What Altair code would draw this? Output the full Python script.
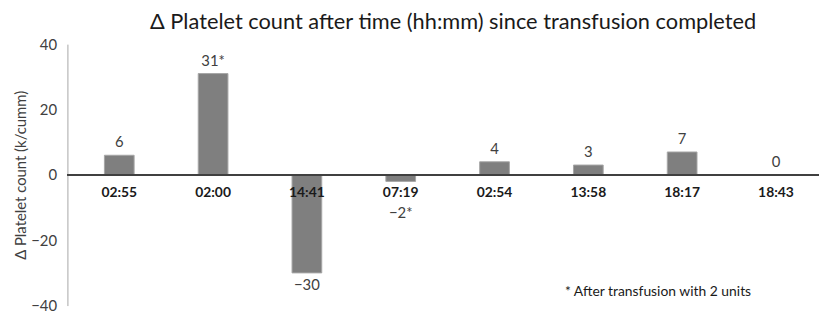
import altair as alt
import pandas as pd

times = ["02:55", "02:00", "14:41", "07:19", "02:54", "13:58", "18:17", "18:43"]
values = [6, 31, -30, -2, 4, 3, 7, 0]
value_labels = ["6", "31*", "\u221230", "\u22122*", "4", "3", "7", "0"]
y_ticks = [-40, -20, 0, 20, 40]
note_text = ["* After transfusion with 2 units"]

FONT = "Lato"

df = pd.DataFrame({"i": list(range(len(times))), "t": times, "v": values, "lab": value_labels})
note_df = pd.DataFrame({"note": note_text})

xs = alt.Scale(domain=[-0.5, 7.406], nice=False, zero=False)
ys = alt.Scale(domain=[-40, 40], nice=False)
X = alt.X("i:Q", scale=xs, axis=None)

base = alt.Chart(df)

bars = base.mark_bar(size=30, color="#7f7f7f", stroke="#a6a6a6", strokeWidth=1).encode(
    x=X,
    y=alt.Y(
        "v:Q",
        scale=ys,
        title="\u0394 Platelet count (k/cumm)",
        axis=alt.Axis(
            values=y_ticks,
            ticks=False,
            grid=False,
            domainColor="#a6a6a6",
            domainWidth=1,
            labelFont=FONT,
            labelFontSize=15,
            labelColor="#404040",
            labelPadding=11,
            titleFont=FONT,
            titleFontSize=15,
            titleFontWeight="normal",
            titleColor="#404040",
            titlePadding=2,
        ),
    ),
)

zero_rule = base.mark_rule(color="#404040", strokeWidth=1.5).encode(y=alt.datum(0, scale=ys))

lab_df_calc = base.transform_calculate(ly="datum.v < 0 ? min(datum.v, -8) : datum.v")

pos_labels = lab_df_calc.transform_filter("datum.v >= 0").mark_text(
    font=FONT, fontSize=15, color="#404040", baseline="middle", dy=-13
).encode(x=X, y=alt.Y("ly:Q", scale=ys), text="lab:N")

neg_labels = lab_df_calc.transform_filter("datum.v < 0").mark_text(
    font=FONT, fontSize=15, color="#404040", baseline="middle", dy=12
).encode(x=X, y=alt.Y("ly:Q", scale=ys), text="lab:N")

cat_labels = base.mark_text(
    font=FONT, fontSize=14, fontWeight="bold", color="#1a1a1a", baseline="middle", dy=18
).encode(x=X, y=alt.datum(0, scale=ys), text="t:N")

note = alt.Chart(note_df).mark_text(
    font=FONT, fontSize=14, color="#1a1a1a", align="left", baseline="middle"
).encode(x=alt.datum(4.75, scale=xs), y=alt.datum(-35.8, scale=ys), text="note:N")

chart = (
    alt.layer(bars, zero_rule, pos_labels, neg_labels, cat_labels, note)
    .properties(
        width=759,
        height=264,
        autosize="none",
        padding={"left": 60, "top": 35, "right": 0, "bottom": 7},
        title=alt.TitleParams(
            "\u0394 Platelet count after time (hh:mm) since transfusion completed",
            font=FONT,
            fontSize=22,
            fontWeight="normal",
            color="#1a1a1a",
            offset=3,
            dx=10,
        ),
    )
    .configure_view(stroke=None)
)

chart.save("out.html", embed_options={"renderer": "svg", "actions": False})
